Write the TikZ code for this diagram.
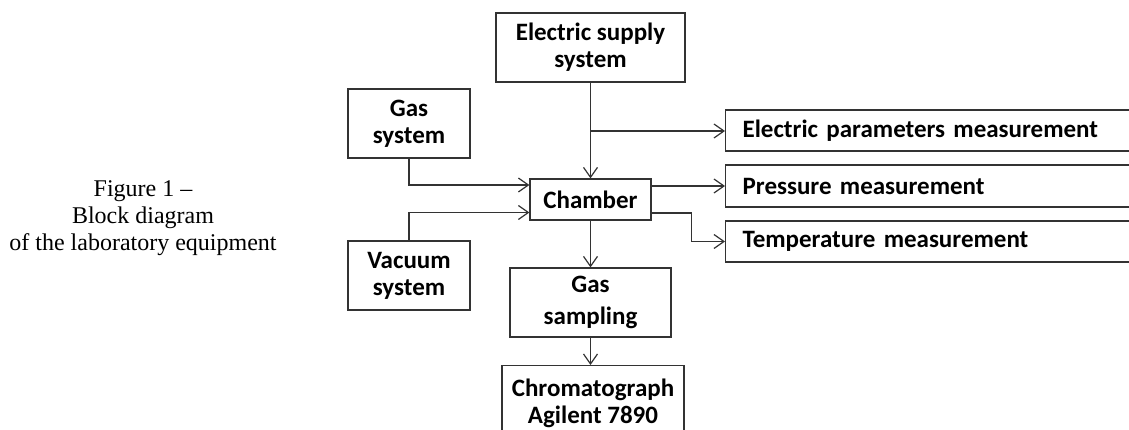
\documentclass[tikz,border=0pt]{standalone}
\usepackage{fontspec}
\setmainfont{Carlito}
\newfontfamily\capfont{Liberation Serif}
\usetikzlibrary{arrows.meta,calc}
\begin{document}
\begin{tikzpicture}[x=1pt,y=1pt,
  box/.style={draw=black!80, line width=1.2pt, inner sep=0pt, align=center,
    font=\fontsize{25}{27}\selectfont\bfseries},
  wbox/.style={draw=black!80, line width=1.2pt, anchor=west, inner xsep=17pt, inner ysep=0pt,
    text width=400pt, align=left, font=\fontsize{25}{27}\selectfont\bfseries},
  arr/.style={draw=black!80, line width=1.2pt, -{Straight Barb[length=10pt,width=14pt,line width=1.2pt]}}]
\useasboundingbox (0,0) rectangle (1129,-430);
\node[font=\capfont\fontsize{24}{27}\selectfont, align=center] (cap) at (143,-218)
  {Figure 1 –\\Block diagram\\of the laboratory equipment};
\node[box, minimum width=189pt, minimum height=69pt] (es) at (590.5,-47.5) {Electric supply\\system};
\node[box, minimum width=122pt, minimum height=69pt] (gs) at (409,-123.5) {Gas\\system};
\node[box, minimum width=121pt, minimum height=41pt] (ch) at (590.5,-199.5) {Chamber};
\node[box, minimum width=122pt, minimum height=69pt] (vs) at (409,-275.5) {Vacuum\\system};
\node[box, minimum width=161pt, minimum height=69pt] (gsm) at (590.5,-302.5) {Gas\\[5pt]sampling};
\node[box, minimum width=182pt, minimum height=76pt, anchor=north] (chr) at (593,-365) {Chromatograph\\Agilent 7890};
\node[wbox, minimum height=41pt] (ep) at (725,-130.5) {Electric parameters measurement};
\node[wbox, minimum height=42pt] (pm) at (725,-186) {Pressure measurement};
\node[wbox, minimum height=41pt] (tm) at (725,-241.5) {Temperature measurement};
\coordinate (b1) at (590.5,-131);
\draw[arr] (es.south) -- (ch.north);
\draw[arr] (b1) -- (b1 -| ep.west);
\draw[arr] (ch.east |- pm.west) -- (pm.west);
\draw[arr] ([yshift=-13.5pt]ch.east) -- ++(40,0) |- (tm.west);
\draw[arr] (gs.south) |- ([yshift=14.5pt]ch.west);
\draw[arr] (vs.north) |- ([yshift=-13pt]ch.west);
\draw[arr] (ch.south) -- (gsm.north);
\draw[arr] (gsm.south) -- (gsm.south |- chr.north);
\end{tikzpicture}
\end{document}
